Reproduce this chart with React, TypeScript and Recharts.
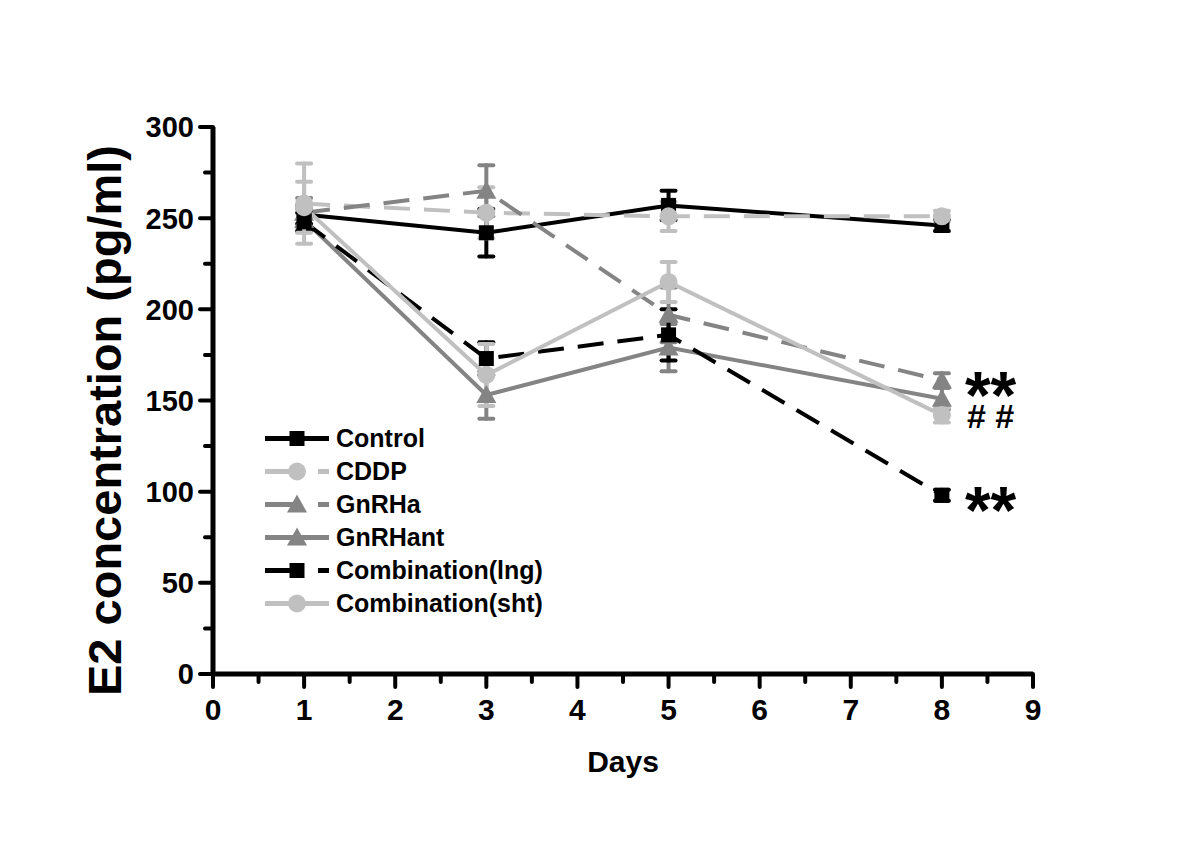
import React from 'react';
import { LineChart, Line, XAxis, YAxis, ErrorBar, Legend, ReferenceDot, Label } from 'recharts';

// sampling days and measured E2 (pg/ml) with SEM
const days = [1, 3, 5, 8];
const controlVals = [252, 242, 257, 246];
const controlErr = [5, 13, 8, 3];
const cddpVals = [258, 253, 251, 251];
const cddpErr = [22, 14, 8, 3];
const gnrhaVals = [253, 265, 197, 161];
const gnrhaErr = [8, 14, 15, 4];
const gnrhantVals = [249, 153, 179, 151];
const gnrhantErr = [6, 13, 13, 6];
const lngVals = [248, 173, 186, 98];
const lngErr = [5, 9, 14, 3];
const shtVals = [256, 164, 215, 142];
const shtErr = [14, 17, 11, 4];

const xTicks = [0, 0.5, 1, 1.5, 2, 2.5, 3, 3.5, 4, 4.5, 5, 5.5, 6, 6.5, 7, 7.5, 8, 8.5, 9];
const yTicks = [0, 25, 50, 75, 100, 125, 150, 175, 200, 225, 250, 275, 300];

const annotDays = [8, 8, 8];
const annotVals = [160, 142, 97];
const annotText = ['**', '# #', '**'];

const BLACK = '#000000';
const LIGHT = '#c0c0c0';
const MID = '#848484';
const DASH = '26 14';

const series = [
  { key: 'control', name: 'Control', vals: controlVals, err: controlErr, color: BLACK, dash: undefined, marker: 'square' },
  { key: 'cddp', name: 'CDDP', vals: cddpVals, err: cddpErr, color: LIGHT, dash: DASH, marker: 'circle' },
  { key: 'gnrha', name: 'GnRHa', vals: gnrhaVals, err: gnrhaErr, color: MID, dash: DASH, marker: 'triangle' },
  { key: 'gnrhant', name: 'GnRHant', vals: gnrhantVals, err: gnrhantErr, color: MID, dash: undefined, marker: 'triangle' },
  { key: 'lng', name: 'Combination(lng)', vals: lngVals, err: lngErr, color: BLACK, dash: DASH, marker: 'square' },
  { key: 'sht', name: 'Combination(sht)', vals: shtVals, err: shtErr, color: LIGHT, dash: undefined, marker: 'circle' },
];

const data = days.map((d, i) => {
  const row: any = { day: d };
  series.forEach((s) => {
    row[s.key] = s.vals[i];
    row[s.key + 'Err'] = s.err[i];
  });
  return row;
});

const annotations = annotDays.map((d, i) => ({ day: d, value: annotVals[i], text: annotText[i] }));

const FONT = '"Liberation Sans", Arial, sans-serif';

const marker = (type: string, cx: number, cy: number, color: string, key?: any) => {
  if (type === 'square') return <rect key={key} x={cx - 7.5} y={cy - 7.5} width={15} height={15} fill={color} />;
  if (type === 'circle') return <circle key={key} cx={cx} cy={cy} r={9} fill={color} />;
  return <polygon key={key} points={`${cx},${cy - 10} ${cx - 10},${cy + 8} ${cx + 10},${cy + 8}`} fill={color} />;
};

const XTick = (p: any) => {
  const v = p.payload.value;
  const major = Number.isInteger(v);
  return (
    <g>
      <line x1={p.x} x2={p.x} y1={p.y} y2={p.y + (major ? 13 : 8)} stroke="#000" strokeWidth={4} strokeLinecap="round" />
      {major && (
        <text x={p.x} y={p.y + 46} textAnchor="middle" fontFamily={FONT} fontWeight="bold" fontSize={30} fill="#000">
          {v}
        </text>
      )}
    </g>
  );
};

const YTick = (p: any) => {
  const v = p.payload.value;
  const major = v % 50 === 0;
  return (
    <g>
      <line x1={p.x} x2={p.x - (major ? 13 : 8)} y1={p.y} y2={p.y} stroke="#000" strokeWidth={4} strokeLinecap="round" />
      {major && (
        <text x={p.x - 19} y={p.y} dy="0.36em" textAnchor="end" fontFamily={FONT} fontWeight="bold" fontSize={29} fill="#000">
          {v}
        </text>
      )}
    </g>
  );
};

const LegendBox = () => (
  <div style={{ fontFamily: FONT, fontWeight: 'bold', fontSize: 25, color: '#000' }}>
    {series.map((s) => (
      <div key={s.key} style={{ display: 'flex', alignItems: 'center', height: 33 }}>
        <svg width={72} height={33} style={{ display: 'block' }}>
          <line x1={2} x2={66} y1={16.5} y2={16.5} stroke={s.color} strokeWidth={5} strokeDasharray={s.dash ? '36 17' : undefined} />
          {marker(s.marker, 34, 16.5, s.color)}
        </svg>
        <span style={{ marginLeft: 1, lineHeight: '33px' }}>{s.name}</span>
      </div>
    ))}
  </div>
);

export default function App() {
  return (
    <div style={{ position: 'absolute', left: 0, top: 0, width: 1200, height: 844, background: '#fff' }}>
      <LineChart width={1200} height={844} data={data} margin={{ top: 127, right: 167, bottom: 169, left: 212 }}>
        <XAxis
          dataKey="day"
          type="number"
          domain={[0, 9]}
          ticks={xTicks}
          interval={0}
          height={1}
          tickSize={0}
          tickMargin={0}
          tickLine={false}
          tick={XTick}
          axisLine={{ stroke: '#000', strokeWidth: 5 }}
        >
          <Label
            content={(p: any) => (
              <text
                x={p.viewBox.x + p.viewBox.width / 2}
                y={p.viewBox.y + 98}
                textAnchor="middle"
                fontFamily={FONT}
                fontWeight="bold"
                fontSize={30}
                fill="#000"
              >
                Days
              </text>
            )}
          />
        </XAxis>
        <YAxis
          type="number"
          domain={[0, 300]}
          ticks={yTicks}
          interval={0}
          width={1}
          tickSize={0}
          tickMargin={0}
          tickLine={false}
          tick={YTick}
          axisLine={{ stroke: '#000', strokeWidth: 5 }}
        >
          <Label
            content={(p: any) => {
              const cx = 121;
              const cy = p.viewBox.y + p.viewBox.height / 2 + 20;
              return (
                <text
                  x={cx}
                  y={cy}
                  transform={`rotate(-90 ${cx} ${cy})`}
                  textAnchor="middle"
                  fontFamily={FONT}
                  fontWeight="bold"
                  fontSize={47}
                  fill="#000"
                >
                  E2 concentration (pg/ml)
                </text>
              );
            }}
          />
        </YAxis>
        {series.map((s) => (
          <Line
            key={s.key}
            dataKey={s.key}
            name={s.name}
            stroke={s.color}
            strokeWidth={4}
            strokeDasharray={s.dash}
            isAnimationActive={false}
            dot={(p: any) => marker(s.marker, p.cx, p.cy, s.color, p.index)}
            activeDot={false}
          >
            <ErrorBar dataKey={s.key + 'Err'} width={7} stroke={s.color} strokeWidth={4} strokeLinecap="round" direction="y" />
          </Line>
        ))}
        {annotations.map((a, i) => (
          <ReferenceDot
            key={i}
            x={a.day}
            y={a.value}
            r={0}
            ifOverflow="visible"
            shape={(p: any) =>
              a.text === '**' ? (
                <text x={p.cx + 23} y={p.cy + 36} fontFamily={FONT} fontWeight="bold" fontSize={66} fill="#000">
                  {a.text}
                </text>
              ) : (
                <text x={p.cx + 25} y={p.cy + 1} dy="0.36em" fontFamily={FONT} fontWeight="bold" fontSize={34} fill="#000">
                  {a.text}
                </text>
              )
            }
          />
        ))}
        <Legend
          layout="vertical"
          align="center"
          verticalAlign="middle"
          content={LegendBox}
          wrapperStyle={{ left: 263, top: 422, width: 330 }}
        />
      </LineChart>
    </div>
  );
}
